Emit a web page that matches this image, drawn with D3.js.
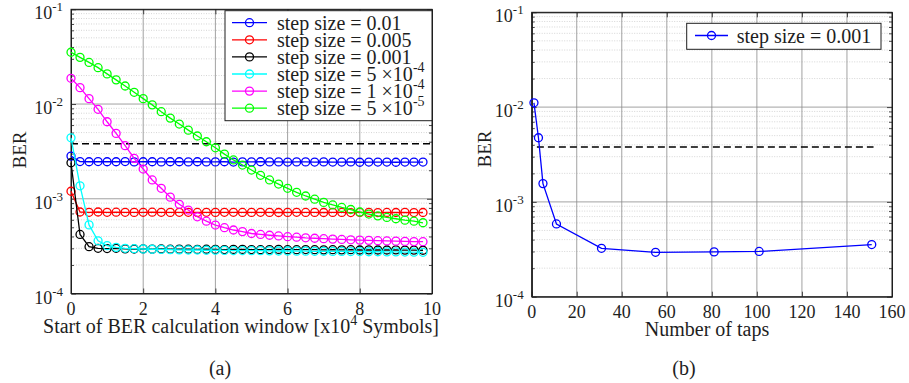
<!DOCTYPE html>
<html>
<head>
<meta charset="utf-8">
<script src="https://cdn.jsdelivr.net/npm/d3@7"></script>
<style>
    body { margin: 0; background: #fff; }
</style>
</head>
<body>
<svg width="909" height="383"></svg>
<script>
// ---- data ----
// (a) BER vs start of the BER window, one series per step size
const windowStart = [0, 0.25, 0.5, 0.75, 1, 1.25, 1.5, 1.75, 2, 2.25, 2.5, 2.75, 3, 3.25, 3.5, 3.75,
    4, 4.25, 4.5, 4.75, 5, 5.25, 5.5, 5.75, 6, 6.25, 6.5, 6.75, 7, 7.25, 7.5, 7.75,
    8, 8.25, 8.5, 8.75, 9, 9.25, 9.5, 9.75];

const berStep0p01 = [2.82e-3, 2.47e-3, 2.46e-3, 2.47e-3, 2.46e-3, 2.46e-3, 2.47e-3, 2.45e-3, 2.46e-3, 2.46e-3,
    2.45e-3, 2.46e-3, 2.46e-3, 2.45e-3, 2.46e-3, 2.45e-3, 2.45e-3, 2.46e-3, 2.44e-3, 2.45e-3,
    2.45e-3, 2.46e-3, 2.45e-3, 2.45e-3, 2.44e-3, 2.45e-3, 2.45e-3, 2.44e-3, 2.45e-3, 2.44e-3,
    2.44e-3, 2.45e-3, 2.43e-3, 2.44e-3, 2.44e-3, 2.44e-3, 2.43e-3, 2.44e-3, 2.44e-3, 2.44e-3];
const berStep0p005 = [1.20e-3, 7.25e-4, 7.2e-4, 7.25e-4, 7.2e-4, 7.22e-4, 7.2e-4, 7.18e-4, 7.2e-4, 7.22e-4,
    7.2e-4, 7.18e-4, 7.2e-4, 7.2e-4, 7.17e-4, 7.2e-4, 7.18e-4, 7.2e-4, 7.2e-4, 7.17e-4,
    7.18e-4, 7.2e-4, 7.18e-4, 7.16e-4, 7.18e-4, 7.2e-4, 7.17e-4, 7.18e-4, 7.16e-4, 7.18e-4,
    7.17e-4, 7.15e-4, 7.17e-4, 7.18e-4, 7.15e-4, 7.17e-4, 7.16e-4, 7.18e-4, 7.15e-4, 7.16e-4];
const berStep0p001 = [2.40e-3, 4.2e-4, 3.12e-4, 3.0e-4, 2.98e-4, 3.0e-4, 2.96e-4, 2.95e-4, 2.96e-4, 2.94e-4,
    2.95e-4, 2.93e-4, 2.94e-4, 2.93e-4, 2.92e-4, 2.93e-4, 2.92e-4, 2.91e-4, 2.92e-4, 2.92e-4,
    2.91e-4, 2.9e-4, 2.91e-4, 2.92e-4, 2.9e-4, 2.9e-4, 2.91e-4, 2.9e-4, 2.89e-4, 2.9e-4,
    2.89e-4, 2.9e-4, 2.88e-4, 2.89e-4, 2.88e-4, 2.88e-4, 2.89e-4, 2.87e-4, 2.87e-4, 2.86e-4];
const berStep5em4 = [4.4e-3, 1.37e-3, 5.3e-4, 3.6e-4, 3.2e-4, 3.07e-4, 3.0e-4, 2.97e-4, 2.95e-4, 2.93e-4,
    2.92e-4, 2.9e-4, 2.89e-4, 2.88e-4, 2.88e-4, 2.86e-4, 2.86e-4, 2.85e-4, 2.84e-4, 2.84e-4,
    2.83e-4, 2.83e-4, 2.82e-4, 2.81e-4, 2.81e-4, 2.8e-4, 2.8e-4, 2.79e-4, 2.79e-4, 2.78e-4,
    2.78e-4, 2.77e-4, 2.77e-4, 2.76e-4, 2.76e-4, 2.75e-4, 2.75e-4, 2.74e-4, 2.73e-4, 2.72e-4];
const berStep1em4 = [1.87e-2, 1.49e-2, 1.14e-2, 8.8e-3, 6.5e-3, 4.9e-3, 3.63e-3, 2.67e-3, 2.06e-3, 1.58e-3,
    1.29e-3, 1.04e-3, 8.74e-4, 7.6e-4, 6.45e-4, 5.8e-4, 5.28e-4, 4.95e-4, 4.68e-4, 4.5e-4,
    4.3e-4, 4.2e-4, 4.12e-4, 4.05e-4, 3.98e-4, 3.93e-4, 3.87e-4, 3.83e-4, 3.79e-4, 3.75e-4,
    3.72e-4, 3.69e-4, 3.66e-4, 3.64e-4, 3.61e-4, 3.59e-4, 3.57e-4, 3.55e-4, 3.53e-4, 3.52e-4];
const berStep5em5 = [3.52e-2, 3.11e-2, 2.75e-2, 2.42e-2, 2.08e-2, 1.8e-2, 1.55e-2, 1.33e-2, 1.14e-2, 9.8e-3,
    8.3e-3, 7.1e-3, 6.15e-3, 5.3e-3, 4.6e-3, 4.0e-3, 3.45e-3, 2.96e-3, 2.57e-3, 2.27e-3,
    2.01e-3, 1.77e-3, 1.58e-3, 1.43e-3, 1.29e-3, 1.17e-3, 1.07e-3, 9.9e-4, 9.16e-4, 8.6e-4,
    8.1e-4, 7.7e-4, 7.25e-4, 6.9e-4, 6.6e-4, 6.35e-4, 6.15e-4, 5.95e-4, 5.8e-4, 5.58e-4];

const stepLabels = ["step size = 0.01", "step size = 0.005", "step size = 0.001",
    "step size = 5 \u00d710", "step size = 1 \u00d710", "step size = 5 \u00d710"];
const stepExponents = ["", "", "", "-4", "-4", "-5"];
const stepColors = ["#0000ff", "#ff0000", "#000000", "#00ffff", "#ff00ff", "#00ff00"];

// (b) BER vs number of taps
const tapCounts = [1, 3, 5, 11, 31, 55, 81, 101, 151];
const berTaps = [1.11e-2, 4.75e-3, 1.56e-3, 5.85e-4, 3.24e-4, 2.94e-4, 2.97e-4, 3.0e-4, 3.55e-4];

const berLimit = 3.8e-3;   // dashed threshold line
const yDecades = [1e-4, 1e-3, 1e-2, 1e-1];
const yExponents = ["-4", "-3", "-2", "-1"];
const xTicksA = [0, 2, 4, 6, 8, 10];
const xTicksB = [0, 20, 40, 60, 80, 100, 120, 140, 160];

const INK = "#1e1e1e";
const svg = d3.select("svg");

function label(sel, size) {
    return sel.attr("font-family", "Liberation Serif").attr("font-size", size).attr("fill", INK);
}

// draws one log-scale panel: grid, box, ticks, labels
function drawPanel(p) {
    const x = d3.scaleLinear().domain(p.xDomain).range([p.left, p.right]);
    const y = d3.scaleLog().domain([1e-4, 1e-1]).range([p.bottom, p.top]);
    const g = svg.append("g");

    const minorVals = y.ticks().filter(v => !yDecades.some(d => Math.abs(v / d - 1) < 1e-6));

    // minor grid (dotted)
    g.selectAll(".minor").data(minorVals).join("line")
        .attr("x1", p.left).attr("x2", p.right)
        .attr("y1", d => y(d)).attr("y2", d => y(d))
        .attr("stroke", "#c4c4c4").attr("stroke-width", 0.7).attr("stroke-dasharray", "1,1.5");

    // major grid
    g.selectAll(".gy").data(yDecades.slice(1, -1)).join("line")
        .attr("x1", p.left).attr("x2", p.right)
        .attr("y1", d => y(d)).attr("y2", d => y(d))
        .attr("stroke", "#8a8a8a").attr("stroke-width", 0.8);
    g.selectAll(".gx").data(p.xTicks.slice(1, -1)).join("line")
        .attr("x1", d => x(d)).attr("x2", d => x(d))
        .attr("y1", p.top).attr("y2", p.bottom)
        .attr("stroke", "#8a8a8a").attr("stroke-width", 0.8);

    // axes with inward ticks
    const axes = [
        [d3.axisBottom(x).tickValues(p.xTicks).tickSize(-5), `translate(0,${p.bottom})`],
        [d3.axisTop(x).tickValues(p.xTicks).tickSize(-5), `translate(0,${p.top})`],
        [d3.axisLeft(y).tickValues(yDecades).tickSize(-5), `translate(${p.left},0)`],
        [d3.axisRight(y).tickValues(yDecades).tickSize(-5), `translate(${p.right},0)`],
        [d3.axisLeft(y).tickValues(minorVals).tickSize(-3), `translate(${p.left},0)`],
        [d3.axisRight(y).tickValues(minorVals).tickSize(-3), `translate(${p.right},0)`]
    ];
    axes.forEach(([ax, tr]) => {
        const a = g.append("g").attr("transform", tr)
            .call(ax.tickFormat("").tickSizeOuter(0));
        a.select(".domain").attr("stroke", INK);
        a.selectAll(".tick line").attr("stroke", INK).attr("stroke-width", 0.8);
    });

    g.append("rect")
        .attr("x", p.left).attr("y", p.top)
        .attr("width", p.right - p.left).attr("height", p.bottom - p.top)
        .attr("fill", "none").attr("stroke", INK).attr("stroke-width", 1);

    // tick labels
    g.selectAll(".xl").data(p.xTicks).join("text")
        .call(label, 18)
        .attr("x", d => x(d)).attr("y", p.bottom + 21)
        .attr("text-anchor", "middle")
        .text(d => d);

    const yl = g.selectAll(".yl").data(yDecades).join("text")
        .call(label, 18)
        .attr("x", p.left - 8).attr("y", d => y(d) + 10)
        .attr("text-anchor", "end");
    yl.append("tspan").text("10");
    yl.append("tspan").attr("dy", -8).attr("font-size", 13).text((d, i) => yExponents[i]);

    svg.append("text").call(label, 19)
        .attr("transform", `translate(${p.yLabelX},${p.yLabelY}) rotate(-90)`)
        .attr("text-anchor", "middle")
        .text("BER");

    // dashed BER limit
    g.append("line")
        .attr("x1", x(p.limitFrom)).attr("x2", x(p.limitTo))
        .attr("y1", y(berLimit)).attr("y2", y(berLimit))
        .attr("stroke", "#000").attr("stroke-width", 1.5).attr("stroke-dasharray", "7,4");

    return { x, y, g };
}

function drawSeries(panel, xs, ys, color) {
    const line = d3.line().x(d => panel.x(d[0])).y(d => panel.y(d[1]));
    const pts = xs.map((v, i) => [v, ys[i]]);
    panel.g.append("path").datum(pts)
        .attr("d", line).attr("fill", "none")
        .attr("stroke", color).attr("stroke-width", 1.3);
    panel.g.selectAll(null).data(pts).join("circle")
        .attr("cx", d => panel.x(d[0])).attr("cy", d => panel.y(d[1]))
        .attr("r", 4).attr("fill", "none")
        .attr("stroke", color).attr("stroke-width", 1.3);
}

function drawLegend(box, rows) {
    const lg = svg.append("g");
    lg.append("rect")
        .attr("x", box.x).attr("y", box.y).attr("width", box.w).attr("height", box.h)
        .attr("fill", "#fff").attr("stroke", INK).attr("stroke-width", 1);
    rows.forEach((r, i) => {
        const cy = box.firstRow + i * box.rowStep;
        lg.append("line")
            .attr("x1", box.lineX1).attr("x2", box.lineX2).attr("y1", cy).attr("y2", cy)
            .attr("stroke", r.color).attr("stroke-width", 1.3);
        lg.append("circle")
            .attr("cx", (box.lineX1 + box.lineX2) / 2).attr("cy", cy).attr("r", 4)
            .attr("fill", "none").attr("stroke", r.color).attr("stroke-width", 1.3);
        const t = lg.append("text").call(label, 20)
            .attr("x", box.textX).attr("y", cy + 7);
        t.append("tspan").text(r.label);
        if (r.exp) t.append("tspan").attr("dy", -9).attr("font-size", 14).text(r.exp);
    });
}

// ---- panel (a) ----
const pa = drawPanel({
    left: 71, right: 432, top: 9.3, bottom: 293.5,
    xDomain: [0, 10], xTicks: xTicksA,
    limitFrom: 0, limitTo: 10,
    yLabelX: 26, yLabelY: 150
});
const seriesA = [berStep0p01, berStep0p005, berStep0p001, berStep5em4, berStep1em4, berStep5em5];
seriesA.forEach((s, i) => drawSeries(pa, windowStart, s, stepColors[i]));

drawLegend({ x: 225, y: 10.7, w: 207, h: 110, firstRow: 22.7, rowStep: 17.1,
        lineX1: 232, lineX2: 267, textX: 277 },
    stepLabels.map((l, i) => ({ label: l, exp: stepExponents[i], color: stepColors[i] })));

const la = svg.append("text").call(label, 20)
    .attr("x", 241).attr("y", 333).attr("text-anchor", "middle");
la.append("tspan").text("Start of BER calculation window [x10");
la.append("tspan").attr("dy", -8).attr("font-size", 14).text("4");
la.append("tspan").attr("dy", 8).text(" Symbols]");

svg.append("text").call(label, 20).attr("x", 220).attr("y", 375)
    .attr("text-anchor", "middle").text("(a)");

// ---- panel (b) ----
const pb = drawPanel({
    left: 531.7, right: 892, top: 12.3, bottom: 296.7,
    xDomain: [0, 160], xTicks: xTicksB,
    limitFrom: 2.3, limitTo: 151.8,
    yLabelX: 491, yLabelY: 149
});
drawSeries(pb, tapCounts, berTaps, "#0000ff");

drawLegend({ x: 686.7, y: 23.3, w: 194.3, h: 26, firstRow: 35.5, rowStep: 17,
        lineX1: 695, lineX2: 728, textX: 736.7 },
    [{ label: "step size = 0.001", exp: "", color: "#0000ff" }]);

svg.append("text").call(label, 20).attr("x", 707).attr("y", 336)
    .attr("text-anchor", "middle").text("Number of taps");

svg.append("text").call(label, 20).attr("x", 684).attr("y", 375)
    .attr("text-anchor", "middle").text("(b)");
</script>
</body>
</html>
